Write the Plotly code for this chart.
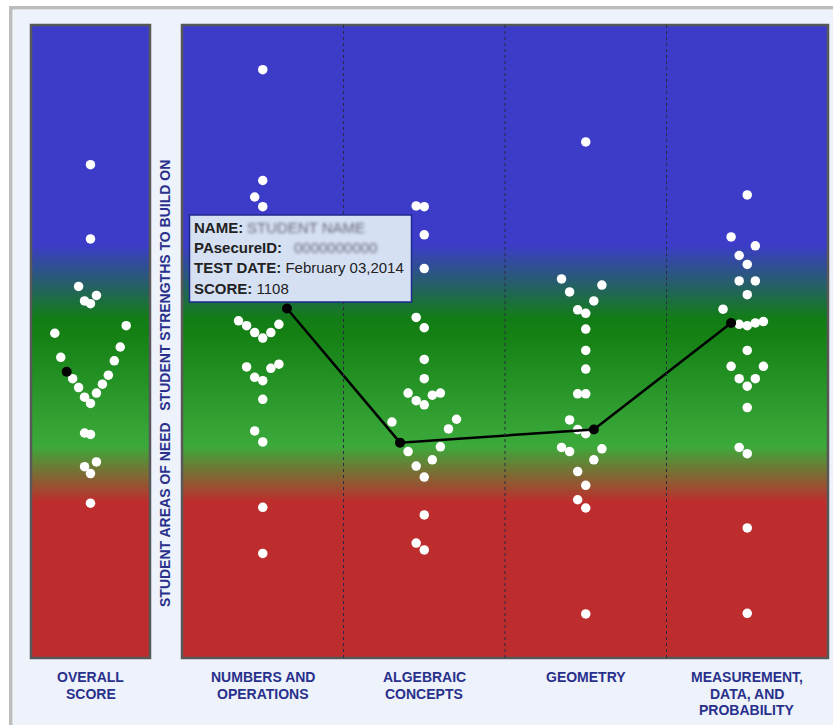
import numpy as np
import plotly.graph_objects as go

# ---------------------------------------------------------------- data
overall_scores = [1317, 1209, 1140, 1127, 1119, 1115, 1083, 1072, 1052, 1037, 1032,
                  1011, 1006, 998, 993, 985, 979, 970, 927, 925, 885, 878, 868, 825]
overall_slots = [0, 0, -2, 1, -1, 0, 6, -6, 5, -5, 4,
                 3, -3, 2, -2, 1, -1, 0, -1, 0, 1, -1, 0, 0]

categories = ["NUMBERS AND\nOPERATIONS", "ALGEBRAIC\nCONCEPTS", "GEOMETRY",
              "MEASUREMENT,\nDATA, AND\nPROBABILITY"]

numbers_scores = [1455, 1294, 1270, 1256, 1090, 1083, 1073, 1065, 1073, 1085,
                  1023, 1008, 1003, 1021, 1027, 976, 930, 914, 819, 752]
numbers_slots = [0, 0, -1, 0, -3, -2, -1, 0, 1, 2,
                 -2, -1, 0, 1, 2, 0, -1, 0, 0, 0]

algebraic_scores = [1257, 1256, 1215, 1166, 1095, 1080, 1034, 1006, 985, 974, 968, 982,
                    985, 943, 947, 933, 907, 900, 888, 879, 863, 808, 767, 757]
algebraic_slots = [-1, 0, 0, 0, -1, 0, 0, 0, -2, -1, 0, 1,
                   2, -4, 4, 3, 2, -2, 1, -1, 0, 0, -1, 0]

geometry_scores = [1350, 1151, 1132, 1142, 1119, 1106, 1101, 1078, 1047, 1020, 984, 984,
                   946, 932, 926, 906, 900, 904, 888, 871, 851, 830, 818, 664]
geometry_slots = [0, -3, -2, 2, 1, -1, 0, 0, 0, 0, -1, 0,
                  -2, -1, 0, -3, -2, 2, 1, -1, 0, -1, 0, 0]

measurement_scores = [1273, 1212, 1199, 1185, 1172, 1148, 1148, 1128, 1107, 1085, 1083,
                      1087, 1089, 1047, 1024, 1024, 1006, 1006, 995, 964, 906, 897, 789, 665]
measurement_slots = [0, -2, 1, -1, 0, -1, 1, 0, -3, -1, 0,
                     1, 2, 0, -2, 2, -1, 1, 0, 0, -1, 0, 0, 0]

# selected student
student_overall = 1016
student_overall_slot = -4
student_scores = [1108, 913, 932, 1087]
student_slots = [3, -3, 1, -2]

tooltip_lines = [("NAME:", "STUDENT NAME"),
                 ("PAsecureID:", "0000000000"),
                 ("TEST DATE:", "February 03,2014"),
                 ("SCORE:", "1108")]

# ---------------------------------------------------------------- layout constants
W, H = 833, 725
Y_MIN, Y_MAX = 600, 1520
SLOT = 0.05
LABEL_COLOR = "#28308C"
FONT = "Liberation Sans, Arial, sans-serif"


def px_x(p):
    return p / W


def px_y(p):
    return 1 - p / H


y_dom = [px_y(658), px_y(25)]
left_dom = [px_x(31), px_x(150)]
right_dom = [px_x(182), px_x(828)]

band_scale = [
    [0.0, "#BE2D2D"],
    [0.246, "#BE2D2D"],
    [0.335, "#3BAA3B"],
    [0.515, "#148014"],
    [0.537, "#127D16"],
    [0.6525, "#3C3CC8"],
    [1.0, "#3C3CC8"],
]

fig = go.Figure()

# gradient backgrounds for both panels
y_edges = np.linspace(Y_MIN, Y_MAX, 461)
y_mid = (y_edges[:-1] + y_edges[1:]) / 2
for xa, ya, x_edges in (("x", "y", [-0.5, 0.5]), ("x2", "y2", [-0.5, 3.5])):
    fig.add_trace(go.Heatmap(
        x=x_edges, y=y_edges, z=y_mid[:, None],
        zmin=Y_MIN, zmax=Y_MAX, colorscale=band_scale, showscale=False,
        hoverinfo="skip", xaxis=xa, yaxis=ya))

dot_style = dict(color="white", size=9.5, line=dict(width=0))

# overall score swarm
fig.add_trace(go.Scatter(
    x=[s * SLOT for s in overall_slots], y=overall_scores, mode="markers",
    marker=dot_style, hoverinfo="skip", xaxis="x", yaxis="y"))
fig.add_trace(go.Scatter(
    x=[student_overall_slot * SLOT], y=[student_overall], mode="markers",
    marker=dict(color="black", size=10), hoverinfo="skip", xaxis="x", yaxis="y"))

# reporting category swarms
groups = [(numbers_scores, numbers_slots), (algebraic_scores, algebraic_slots),
          (geometry_scores, geometry_slots), (measurement_scores, measurement_slots)]
for i, (scores, slots) in enumerate(groups):
    fig.add_trace(go.Scatter(
        x=[i + s * SLOT for s in slots], y=scores, mode="markers",
        marker=dot_style, hoverinfo="skip", xaxis="x2", yaxis="y2"))

# student profile line
fig.add_trace(go.Scatter(
    x=[i + s * SLOT for i, s in enumerate(student_slots)], y=student_scores,
    mode="lines+markers", line=dict(color="black", width=2.5),
    marker=dict(color="black", size=10), hoverinfo="skip", xaxis="x2", yaxis="y2"))

axis_off = dict(visible=False, showgrid=False, zeroline=False, fixedrange=True)
fig.update_layout(
    width=W, height=H,
    margin=dict(l=0, r=0, t=0, b=0),
    paper_bgcolor="white",
    plot_bgcolor="rgba(0,0,0,0)",
    showlegend=False,
    xaxis=dict(domain=left_dom, range=[-0.5, 0.5], anchor="y", **axis_off),
    yaxis=dict(domain=y_dom, range=[Y_MIN, Y_MAX], anchor="x", **axis_off),
    xaxis2=dict(domain=right_dom, range=[-0.5, 3.5], anchor="y2", **axis_off),
    yaxis2=dict(domain=y_dom, range=[Y_MIN, Y_MAX], anchor="x2", **axis_off),
)

shapes = []
# page frame
shapes.append(dict(type="rect", xref="paper", yref="paper", layer="below",
                   x0=px_x(9), x1=1.02, y0=-0.02, y1=px_y(6),
                   fillcolor="#BDBDBD", line=dict(width=0)))
shapes.append(dict(type="rect", xref="paper", yref="paper", layer="below",
                   x0=px_x(13), x1=1.02, y0=-0.02, y1=px_y(10),
                   fillcolor="#EEF2FA", line=dict(color="#F9FBFE", width=1)))
# panel borders
for xr, yr in (("x domain", "y domain"), ("x2 domain", "y2 domain")):
    shapes.append(dict(type="rect", xref=xr, yref=yr, x0=0, x1=1, y0=0, y1=1,
                       line=dict(color="#585858", width=2.5), layer="above"))
# category dividers
for b in (0.5, 1.5, 2.5):
    shapes.append(dict(type="line", xref="x2", yref="y2 domain", x0=b, x1=b, y0=0, y1=1,
                       line=dict(color="#2A2A44", width=1, dash="dot"), layer="above"))
# tooltip box
shapes.append(dict(type="rect", xref="paper", yref="paper", layer="above",
                   x0=px_x(189.5), x1=px_x(411.5), y0=px_y(302), y1=px_y(215),
                   fillcolor="#D5E0F2", line=dict(color="#1E2A8C", width=1.5)))
fig.update_layout(shapes=shapes)

annotations = []
label_font = dict(family=FONT, size=14, color=LABEL_COLOR, weight="bold")


def add_label(text, xref, x):
    for k, line in enumerate(text.split("\n")):
        annotations.append(dict(text=line, xref=xref, x=x, yref="paper", y=px_y(677 + 16.5 * k),
                                xanchor="center", yanchor="middle", showarrow=False,
                                font=label_font))


add_label("OVERALL\nSCORE", "x", 0)
for i, c in enumerate(categories):
    add_label(c, "x2", i)

annotations.append(dict(
    text="STUDENT AREAS OF NEED\u00a0\u00a0\u00a0STUDENT STRENGTHS TO BUILD ON",
    xref="paper", yref="paper", x=px_x(165), y=px_y(384), textangle=-90,
    xanchor="center", yanchor="middle", showarrow=False, font=label_font))

tip_font_b = dict(family=FONT, size=15, color="#222222", weight="bold")
tip_font = dict(family=FONT, size=15, color="#222222")
value_x = [245, 292, None, None]
for k, (key, val) in enumerate(tooltip_lines):
    yy = px_y(227 + 20.4 * k)
    if value_x[k] is None:
        annotations.append(dict(text=f"<b>{key}</b> {val}", xref="paper", yref="paper",
                                x=px_x(192), y=yy, xanchor="left", yanchor="middle",
                                showarrow=False, font=tip_font))
    else:
        annotations.append(dict(text=key, xref="paper", yref="paper",
                                x=px_x(192), y=yy, xanchor="left", yanchor="middle",
                                showarrow=False, font=tip_font_b))
        annotations.append(dict(text=val, xref="paper", yref="paper",
                                x=px_x(value_x[k]), y=yy, xanchor="left", yanchor="middle",
                                showarrow=False,
                                font=dict(family=FONT, size=15, color="#6A6A7C")))
fig.update_layout(annotations=annotations)

# obscure the personal fields in the tooltip
blur_js = """
var gd = document.getElementById('{plot_id}');
function blurPrivate() {
  gd.querySelectorAll('.annotation-text').forEach(function (t) {
    var s = t.textContent;
    if (s === 'STUDENT NAME' || s === '0000000000') { t.style.filter = 'blur(1.8px)'; }
  });
}
blurPrivate();
gd.on('plotly_afterplot', blurPrivate);
"""

fig.write_html("out.html", post_script=blur_js, config={"displayModeBar": False})
